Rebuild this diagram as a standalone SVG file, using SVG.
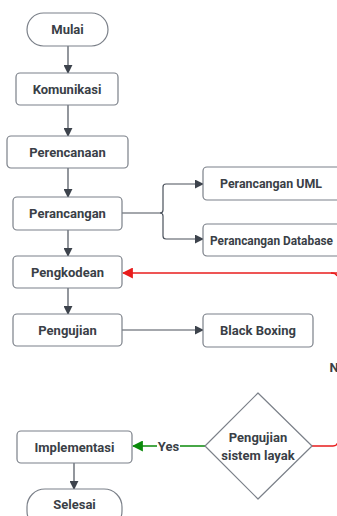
<svg xmlns="http://www.w3.org/2000/svg" width="337" height="516" viewBox="0 0 337 516">
<defs>
<style>
.n{fill:#fff;stroke:#7b8089;stroke-width:1.2}
.t{font-family:Roboto,"Liberation Sans",Arial,sans-serif;font-weight:bold;font-size:13px;fill:#3a3f47;text-anchor:middle}
.c{fill:none;stroke:#4a515b;stroke-width:1.2}
</style>
<marker id="a" viewBox="0 0 10 10" refX="9" refY="5" markerWidth="9" markerHeight="9" orient="auto" markerUnits="userSpaceOnUse"><path d="M0,0L10,5L0,10z" fill="#3d434c"/></marker>
<marker id="r" viewBox="0 0 10 10" refX="9" refY="5" markerWidth="11" markerHeight="11" orient="auto" markerUnits="userSpaceOnUse"><path d="M0,0L10,5L0,10z" fill="#e81c1c"/></marker>
<marker id="g" viewBox="0 0 10 10" refX="9" refY="5" markerWidth="11" markerHeight="11" orient="auto" markerUnits="userSpaceOnUse"><path d="M0,0L10,5L0,10z" fill="#0a8a0a"/></marker>
</defs>
<g id="connectors">
<path class="c" d="M68,46V73" marker-end="url(#a)"/>
<path class="c" d="M68,105V136" marker-end="url(#a)"/>
<path class="c" d="M68,168V197" marker-end="url(#a)"/>
<path class="c" d="M68,230V256" marker-end="url(#a)"/>
<path class="c" d="M68,288V314" marker-end="url(#a)"/>
<path class="c" d="M122,213H160Q163,213 163,210V187Q163,184 166,184H203" marker-end="url(#a)"/>
<path class="c" d="M160,213Q163,213 163,216V236Q163,239 166,239H203" marker-end="url(#a)"/>
<path class="c" d="M122,330H203" marker-end="url(#a)"/>
<path d="M337,273H123" fill="none" stroke="#e81c1c" stroke-width="1.5" marker-end="url(#r)"/>
<path d="M331,273Q336,273 337,276" fill="none" stroke="#e81c1c" stroke-width="1.5"/>
<path d="M312,446H333Q337,446 338,442" fill="none" stroke="#e81c1c" stroke-width="1.5"/>
<path d="M205,446H133" fill="none" stroke="#0a8a0a" stroke-width="1.5" marker-end="url(#g)"/>
<path class="c" d="M74,463V489" marker-end="url(#a)"/>
</g>
<g id="mulai"><rect class="n" x="27" y="13" width="81" height="33" rx="16.5"/><text class="t" x="67.5" y="34">Mulai</text></g>
<g id="komunikasi"><rect class="n" x="16" y="73" width="102" height="32" rx="4"/><text class="t" x="67" y="93.5">Komunikasi</text></g>
<g id="perencanaan"><rect class="n" x="7" y="136" width="121" height="32" rx="4"/><text class="t" x="67.5" y="156.5">Perencanaan</text></g>
<g id="perancangan"><rect class="n" x="13" y="197" width="109" height="33" rx="4"/><text class="t" x="67.5" y="217.5">Perancangan</text></g>
<g id="pengkodean"><rect class="n" x="13" y="256" width="109" height="32" rx="4"/><text class="t" x="67.5" y="276.5">Pengkodean</text></g>
<g id="pengujian"><rect class="n" x="13" y="314" width="109" height="32" rx="4"/><text class="t" x="67.5" y="334.5">Pengujian</text></g>
<g id="uml"><rect class="n" x="203" y="167" width="150" height="33" rx="4"/><text class="t" x="271" y="187.5" textLength="102" lengthAdjust="spacingAndGlyphs">Perancangan UML</text></g>
<g id="database"><rect class="n" x="203" y="224" width="150" height="32" rx="4"/><text class="t" x="271.5" y="244.5" textLength="123" lengthAdjust="spacingAndGlyphs">Perancangan Database</text></g>
<g id="blackboxing"><rect class="n" x="203" y="314" width="110" height="33" rx="4"/><text class="t" x="258" y="334.5">Black Boxing</text></g>
<text class="t" x="334" y="372">N</text>
<g id="decision"><path class="n" d="M258,393L312,446L258,499L205,446z" stroke-linejoin="round"/><text class="t" x="258" y="442">Pengujian</text><text class="t" x="258" y="460">sistem layak</text></g>
<rect x="157" y="439" width="23" height="14" fill="#fff"/>
<text class="t" x="168.5" y="451">Yes</text>
<g id="implementasi"><rect class="n" x="17" y="431" width="115" height="32" rx="4"/><text class="t" x="74.5" y="451.5">Implementasi</text></g>
<g id="selesai"><rect class="n" x="27" y="489" width="95" height="40" rx="18"/><text class="t" x="74.5" y="508.5">Selesai</text></g>
</svg>
